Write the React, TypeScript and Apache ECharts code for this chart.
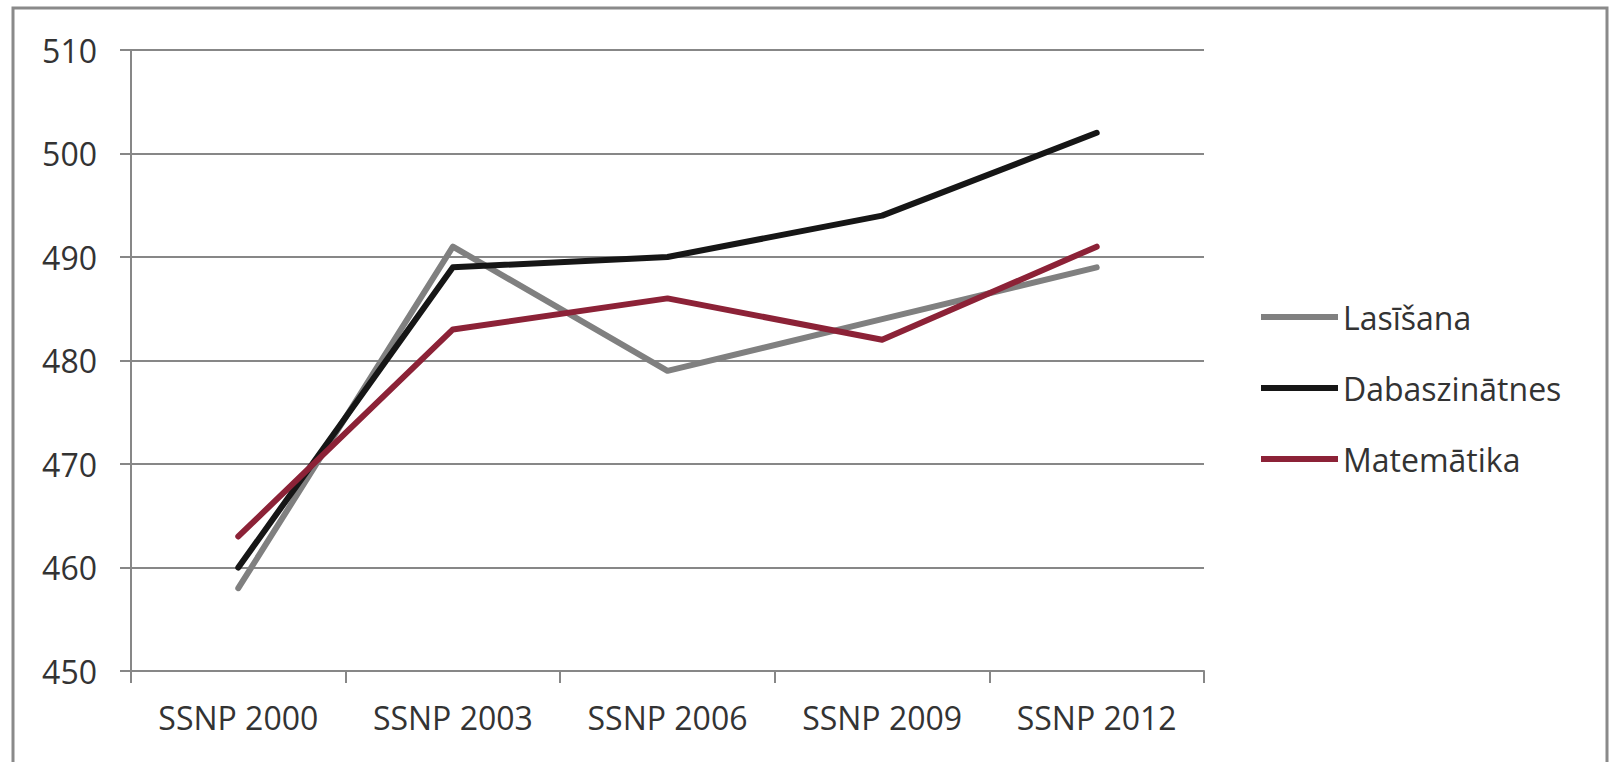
import React, { useEffect, useRef } from "react";
import * as echarts from "echarts";

const categories = ["SSNP 2000", "SSNP 2003", "SSNP 2006", "SSNP 2009", "SSNP 2012"];
const lasisana = [458, 491, 479, 484, 489];
const dabaszinatnes = [460, 489, 490, 494, 502];
const matematika = [463, 483, 486, 482, 491];
const seriesNames = ["Lasīšana", "Dabaszinātnes", "Matemātika"];
const seriesColors = ["#808080", "#161616", "#8c2237"];

export default function App() {
  const ref = useRef<HTMLDivElement>(null);
  useEffect(() => {
    if (!ref.current) return;
    const chart = echarts.init(ref.current, null, { renderer: "svg" });
    const font = "'Open Sans', sans-serif";
    const data = [lasisana, dabaszinatnes, matematika];
    chart.setOption({
      animation: false,
      backgroundColor: "#ffffff",
      graphic: [
        {
          type: "rect",
          shape: { x: 13, y: 8, width: 1594, height: 780 },
          style: { fill: "none", stroke: "#8a8a8a", lineWidth: 3 },
          silent: true,
        },
      ],
      grid: { left: 131, right: 408, top: 50, bottom: 91 },
      legend: {
        orient: "vertical",
        left: 1256,
        top: 292,
        itemWidth: 77,
        itemHeight: 6,
        itemGap: 31,
        icon: "rect",
        data: seriesNames,
        textStyle: {
          fontFamily: font,
          fontSize: 32,
          color: "#333333",
          lineHeight: 40,
        },
      },
      xAxis: {
        type: "category",
        data: categories,
        boundaryGap: true,
        axisLine: { show: true, lineStyle: { color: "#878787", width: 2 } },
        axisTick: { show: true, length: 12, alignWithLabel: false, lineStyle: { color: "#878787", width: 2 } },
        axisLabel: { fontFamily: font, fontSize: 32, color: "#333333", margin: 30 },
        splitLine: { show: false },
      },
      yAxis: {
        type: "value",
        min: 450,
        max: 510,
        interval: 10,
        axisLine: { show: true, lineStyle: { color: "#878787", width: 2 } },
        axisTick: { show: true, length: 11, lineStyle: { color: "#878787", width: 2 } },
        axisLabel: { fontFamily: font, fontSize: 32, color: "#333333", margin: 34 },
        splitLine: { show: true, lineStyle: { color: "#878787", width: 2 } },
      },
      series: seriesNames.map((name, i) => ({
        name,
        type: "line",
        data: data[i],
        showSymbol: false,
        symbol: "none",
        color: seriesColors[i],
        lineStyle: { color: seriesColors[i], width: 6, cap: "round", join: "round" },
      })),
    });
    return () => chart.dispose();
  }, []);
  return (
    <div
      ref={ref}
      style={{ position: "absolute", left: 0, top: 0, width: 1612, height: 762 }}
    />
  );
}
